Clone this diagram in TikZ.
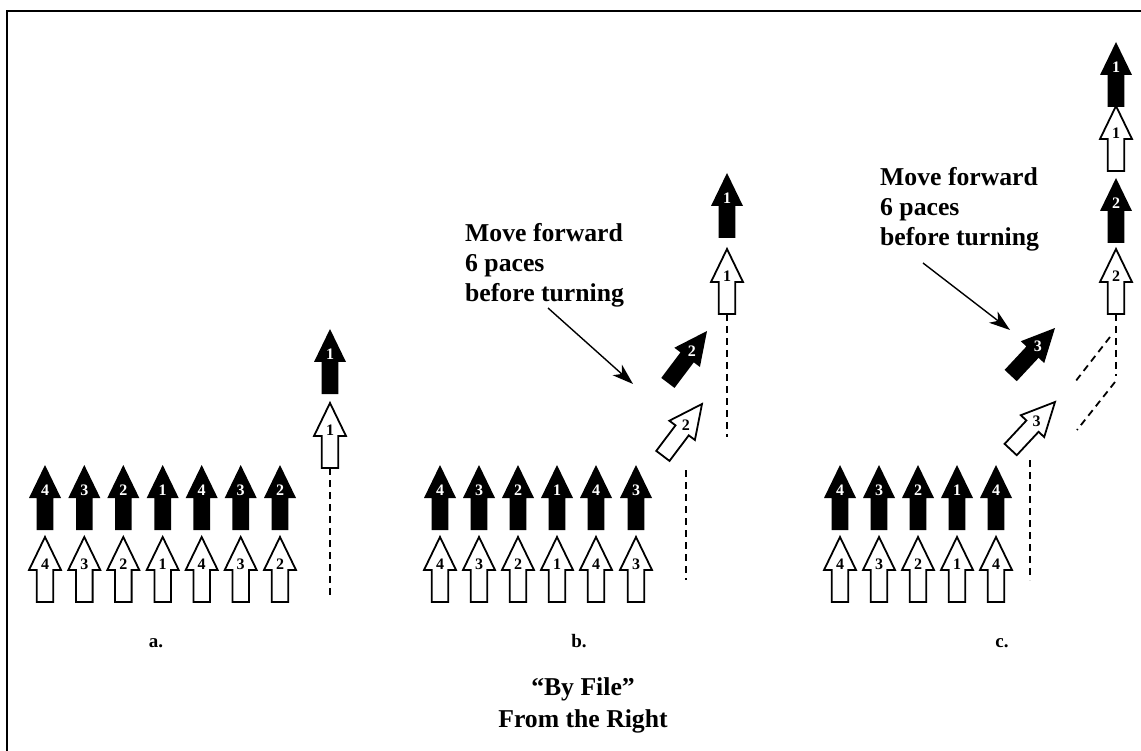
\documentclass[tikz,border=0pt]{standalone}
\usepackage{fontspec}
\setmainfont{Liberation Serif}
\usetikzlibrary{arrows.meta,calc}
\tikzset{
  blkshape/.style={fill=black},
  whtshape/.style={fill=white,draw=black,line width=1.8pt,line join=miter},
  blknum/.style={text=white,inner sep=0pt,font=\fontsize{16}{16}\selectfont\bfseries},
  whtnum/.style={text=black,inner sep=0pt,font=\fontsize{16}{16}\selectfont\bfseries},
  trail/.style={line width=1.8pt,dash pattern=on 7pt off 5pt},
  ptr/.style={line width=1.4pt,-{Stealth[length=21pt,width=14pt,inset=6pt]}},
  note/.style={align=left,inner sep=0pt,font=\fontsize{25.7}{30}\selectfont\bfseries},
  panel/.style={inner sep=0pt,font=\fontsize{19}{19}\selectfont\bfseries},
  title/.style={align=center,inner sep=0pt,font=\fontsize{25.7}{32}\selectfont\bfseries},
}
% #1 name, #2 x, #3 y of tip, #4 angle, #5 number, #6 blk/wht, #7 label offset
\newcommand{\farrow}[7]{%
  \begin{scope}[shift={(#2,#3)},rotate=#4]
    \path[#6shape] (0,0) -- (16,33) -- (8.3,33) -- (8.3,65) -- (-8.3,65) -- (-8.3,33) -- (-16,33) -- cycle;
    \coordinate (#1tail) at (0,65);
    \node[#6num] (#1) at (0,#7) {#5};
  \end{scope}}
\newcommand{\barr}[5]{\farrow{#1}{#2}{#3}{#4}{#5}{blk}{25}}
\newcommand{\warr}[5]{\farrow{#1}{#2}{#3}{#4}{#5}{wht}{27}}
\begin{document}
\begin{tikzpicture}[x=1pt,y=-1pt]
\useasboundingbox (0,0) rectangle (1141,751);
\clip (0,0) rectangle (1141,751);
\draw[line width=2pt] (7,11) rectangle (1170,780);

% ---- panel a rows
\foreach \x/\n [count=\i] in {45/4,84.3/3,123.3/2,162.7/1,201.7/4,240.7/3,280/2}{
  \barr{aB\i}{\x}{465}{0}{\n}
  \warr{aW\i}{\x}{537}{0}{\n}
}
\barr{aCB}{330}{329}{0}{1}
\warr{aCW}{330}{403}{0}{1}
\coordinate (aEnd) at (330,597);
\draw[trail] (aCWtail) -- (aEnd);

% ---- panel b rows
\foreach \x/\n [count=\i] in {440/4,479/3,518/2,557/1,596/4,636/3}{
  \barr{bB\i}{\x}{465}{0}{\n}
  \warr{bW\i}{\x}{537}{0}{\n}
}
\barr{bCB}{727}{173}{0}{1}
\warr{bCW}{727}{249}{0}{1}
\coordinate (bEnd) at (727,437);
\draw[trail] (bCWtail) -- (bEnd);
\barr{bDB}{707}{331}{-37}{2}
\warr{bDW}{702}{404}{-37}{2}
\coordinate (bVs) at (686,470);
\coordinate (bVe) at (686,580);
\draw[trail] (bVs) -- (bVe);
\node[note,anchor=base west] (bNote) at (465,302) {Move forward\\6 paces\\before turning};
\coordinate (bPs) at (548,308);
\coordinate (bPe) at (633,384);
\draw[ptr] (bPs) -- (bPe);

% ---- panel c rows
\foreach \x/\n [count=\i] in {840/4,879/3,918/2,957/1,996/4}{
  \barr{cB\i}{\x}{465}{0}{\n}
  \warr{cW\i}{\x}{537}{0}{\n}
}
\barr{cCB1}{1116}{42}{0}{1}
\warr{cCW1}{1116}{106}{0}{1}
\barr{cCB2}{1116}{178}{0}{2}
\warr{cCW2}{1116}{249}{0}{2}
\coordinate (cEnd) at (1116,376);
\draw[trail] (cCW2tail) -- (cEnd);
\barr{cDB}{1055}{328}{-43}{3}
\warr{cDW}{1055}{402}{-43}{3}
\coordinate (cD1s) at (1110,337);
\coordinate (cD1e) at (1075,382);
\coordinate (cD2s) at (1115,382);
\coordinate (cD2e) at (1077,430);
\draw[trail] (cD1s) -- (cD1e);
\draw[trail] (cD2s) -- (cD2e);
\coordinate (cVs) at (1030,460);
\coordinate (cVe) at (1030,580);
\draw[trail] (cVs) -- (cVe);
\node[note,anchor=base west] (cNote) at (880,246) {Move forward\\6 paces\\before turning};
\coordinate (cPs) at (923,263);
\coordinate (cPe) at (1010,330);
\draw[ptr] (cPs) -- (cPe);

% ---- labels
\node[panel,anchor=base] (la) at (156,647) {a.};
\node[panel,anchor=base] (lb) at (579,647) {b.};
\node[panel,anchor=base] (lc) at (1002,647) {c.};
\node[title,anchor=base] (ttl) at (583,727) {``By File''\\From the Right};
\end{tikzpicture}
\end{document}
